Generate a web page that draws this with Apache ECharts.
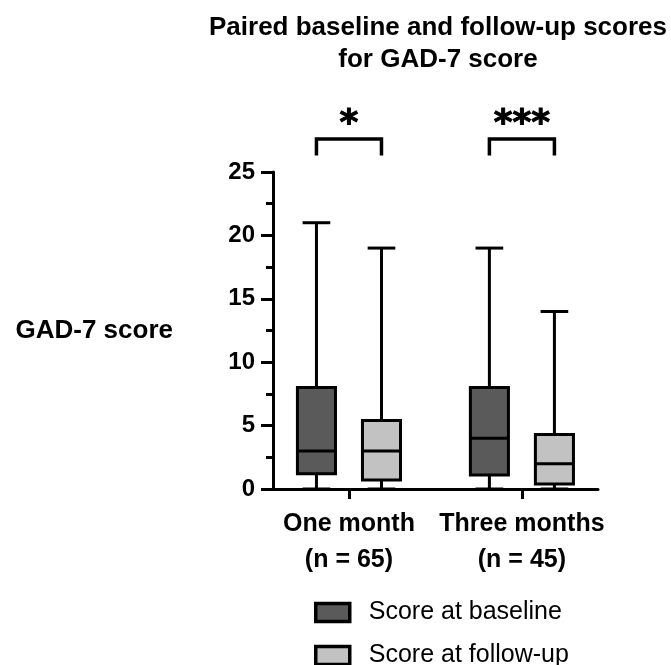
<!DOCTYPE html>
<html>
<head>
<meta charset="utf-8">
<script src="https://cdn.jsdelivr.net/npm/echarts@6/dist/echarts.min.js"></script>
<style>
  html, body { margin: 0; padding: 0; background: #fff; }
  #chart { width: 671px; height: 665px; }
</style>
</head>
<body>
<div id="chart"></div>
<script>
// Follow-up windows and group sizes
const categories = ['One month', 'Three months'];
const sampleSizes = [65, 45];

// Box statistics per window: [min, Q1, median, Q3, max]
const baselineScores = [
  [0, 1.2, 3, 8, 21],
  [0, 1.1, 4, 8, 19]
];
const followUpScores = [
  [0, 0.7, 3, 5.4, 19],
  [0, 0.4, 2, 4.3, 14]
];

// Paired test result per window
const significance = ['*', '***'];

const seriesNames = ['Score at baseline', 'Score at follow-up'];

const FONT = '"Liberation Sans", Arial, Helvetica, sans-serif';

// each window sits at an odd position on the x value axis: 1, 3, ...
const groupPos = i => 2 * i + 1;

function toRows(stats) {
  return stats.map((s, i) => [groupPos(i)].concat(s));
}

// Box-and-whisker drawn through the axis scales; side = -1 (left) or +1 (right)
function boxRenderer(side) {
  return function (params, api) {
    const x = api.value(0);
    const unit = api.size([1, 0])[0];
    const cx = api.coord([x, 0])[0] + side * 0.376 * unit;
    const y = k => api.coord([x, api.value(k)])[1];
    const yMin = y(1), yQ1 = y(2), yMed = y(3), yQ3 = y(4), yMax = y(5);
    const halfBox = 0.22 * unit;
    const halfCap = 0.16 * unit;
    const line = { stroke: '#000', lineWidth: 3 };
    return {
      type: 'group',
      children: [
        { type: 'line', shape: { x1: cx, y1: yQ3, x2: cx, y2: yMax }, style: line },
        { type: 'line', shape: { x1: cx - halfCap, y1: yMax, x2: cx + halfCap, y2: yMax }, style: line },
        { type: 'line', shape: { x1: cx, y1: yQ1, x2: cx, y2: yMin }, style: line },
        { type: 'line', shape: { x1: cx - halfCap, y1: yMin, x2: cx + halfCap, y2: yMin }, style: line },
        {
          type: 'rect',
          shape: { x: cx - halfBox, y: yQ3, width: 2 * halfBox, height: yQ1 - yQ3 },
          style: { fill: api.visual('color'), stroke: '#000', lineWidth: 3 }
        },
        { type: 'line', shape: { x1: cx - halfBox, y1: yMed, x2: cx + halfBox, y2: yMed }, style: line }
      ]
    };
  };
}

// Significance bracket spanning the two boxes of a window
function bracketRenderer(params, api) {
  const x = api.value(0);
  const unit = api.size([1, 0])[0];
  const c = api.coord([x, 0])[0];
  const off = 0.376 * unit;
  const yTop = api.coord([x, 27.6])[1];
  const yLeg = api.coord([x, 26.3])[1];
  const yTxt = api.coord([x, 28.7])[1];
  return {
    type: 'group',
    children: [
      {
        type: 'polyline',
        shape: { points: [[c - off, yLeg], [c - off, yTop], [c + off, yTop], [c + off, yLeg]] },
        style: { stroke: '#000', lineWidth: 3.5, fill: null, lineJoin: 'miter' }
      },
      {
        type: 'text',
        x: c, y: yTxt,
        style: {
          text: significance[params.dataIndex],
          font: 'bold 36px "DejaVu Sans", sans-serif',
          fill: '#000', align: 'center', verticalAlign: 'middle',
          stroke: '#000', lineWidth: 1
        }
      }
    ]
  };
}

const chart = echarts.init(document.getElementById('chart'), null, { renderer: 'canvas' });

chart.setOption({
  animation: false,
  backgroundColor: '#fff',
  textStyle: { fontFamily: FONT },
  title: {
    text: 'Paired baseline and follow-up scores\nfor GAD-7 score',
    left: 438, top: 12, padding: 0,
    textAlign: 'center',
    textStyle: { fontFamily: FONT, fontSize: 26, fontWeight: 'bold', color: '#000', lineHeight: 32 }
  },
  grid: { left: 262.5, right: 73, top: 172, bottom: 176, outerBoundsMode: 'none' },
  legend: {
    orient: 'vertical',
    left: 314, top: 600,
    width: 340, height: 140,
    padding: 0,
    itemWidth: 34, itemHeight: 18, itemGap: 18,
    icon: 'rect',
    itemStyle: { borderColor: '#000', borderWidth: 3.5 },
    textStyle: { fontFamily: FONT, fontSize: 25, color: '#000', lineHeight: 20, padding: [0, 0, 0, 14] },
    data: seriesNames
  },
  xAxis: {
    type: 'value',
    min: 0, max: 3.88,
    axisLine: { show: true, onZero: false, lineStyle: { color: '#000', width: 3 } },
    axisTick: { show: true, customValues: categories.map((c, i) => groupPos(i)), length: 10, lineStyle: { color: '#000', width: 3 } },
    axisLabel: {
      customValues: categories.map((c, i) => groupPos(i)),
      formatter: v => {
        const i = Math.round((v - 1) / 2);
        return categories[i] + '\n(n = ' + sampleSizes[i] + ')';
      },
      fontFamily: FONT, fontSize: 25, fontWeight: 'bold', color: '#000',
      lineHeight: 36, margin: 17
    },
    splitLine: { show: false }
  },
  yAxis: {
    type: 'value',
    min: 0, max: 25, interval: 5,
    offset: -10.5,
    name: 'GAD-7 score',
    nameLocation: 'middle', nameRotate: 0, nameGap: 100,
    nameTextStyle: { fontFamily: FONT, fontSize: 26, fontWeight: 'bold', color: '#000' },
    axisLine: { show: true, onZero: false, lineStyle: { color: '#000', width: 3 } },
    axisTick: { show: true, length: 12, lineStyle: { color: '#000', width: 3 } },
    minorTick: { show: true, splitNumber: 2, length: 7, lineStyle: { color: '#000', width: 3 } },
    axisLabel: { fontFamily: FONT, fontSize: 24, fontWeight: 'bold', color: '#000', margin: 18 },
    splitLine: { show: false },
    minorSplitLine: { show: false }
  },
  series: [
    {
      name: seriesNames[0],
      type: 'custom',
      itemStyle: { color: '#5a5a5a' },
      encode: { x: 0, y: [1, 2, 3, 4, 5] },
      data: toRows(baselineScores),
      renderItem: boxRenderer(-1),
      z: 3
    },
    {
      name: seriesNames[1],
      type: 'custom',
      itemStyle: { color: '#c2c2c2' },
      encode: { x: 0, y: [1, 2, 3, 4, 5] },
      data: toRows(followUpScores),
      renderItem: boxRenderer(1),
      z: 3
    },
    {
      name: 'significance',
      type: 'custom',
      encode: { x: 0 },
      data: categories.map((c, i) => [groupPos(i)]),
      renderItem: bracketRenderer,
      clip: false,
      silent: true,
      z: 4
    }
  ]
});
</script>
</body>
</html>
